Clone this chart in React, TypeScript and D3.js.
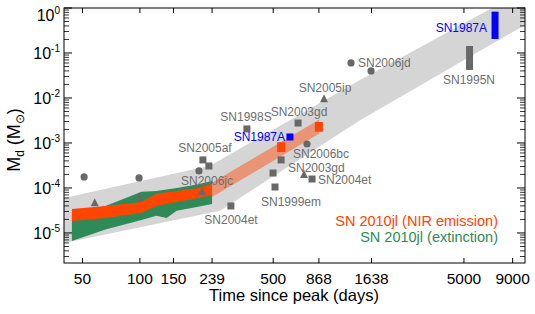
import React from 'react';
import * as d3 from 'd3';

const W = 535;
const H = 314;

// axis ticks
const xTickValues = [50, 100, 150, 239, 500, 868, 1638, 5000, 9000];
const yDecadeExps = [-5, -4, -3, -2, -1, 0];

// SN 2010jl bands (epochs in days since peak)
const epochs = [44, 66, 102, 122, 138, 156, 199, 239];
const nirHigh = [3.4e-5, 4.0e-5, 4.9e-5, 7.4e-5, 8.0e-5, 8.6e-5, 9.8e-5, 1.22e-4];
const nirLow = [1.85e-5, 2.15e-5, 2.8e-5, 4.0e-5, 4.4e-5, 4.9e-5, 5.9e-5, 7.0e-5];
const extHigh = [2.8e-5, 4.0e-5, 8.2e-5, 8.6e-5, 9.3e-5, 1.0e-4, 1.2e-4, 1.42e-4];
const extLow = [6.6e-6, 1.2e-5, 1.95e-5, 2.4e-5, 2.15e-5, 3.1e-5, 3.8e-5, 4.4e-5];

// extrapolated NIR band (late times)
const lateEpochs = [239, 868];
const lateHigh = [1.3e-4, 3.3e-3];
const lateLow = [6.3e-5, 1.6e-3];

// late NIR measurements (rectangles: epoch, low, high)
const nirLateT = [550, 868];
const nirLateLow = [6.3e-4, 1.78e-3];
const nirLateHigh = [1.04e-3, 2.92e-3];

// gray envelope
const envUpperT = [40, 233, 1427, 7020, 10450];
const envUpperM = [6.0e-5, 3.1e-4, 0.025, 1.0, 2.5];
const envLowerT = [40, 263, 1427, 10450];
const envLowerM = [6.0e-6, 3.1e-5, 3.2e-3, 0.42];

// other supernovae markers
const circleT = [51, 99, 204, 752, 1279, 1629];
const circleM = [1.76e-4, 1.67e-4, 2.39e-4, 9.5e-4, 0.06, 0.04];
const triangleT = [58, 99, 212, 923, 725];
const triangleM = [4.64e-5, 6.3e-5, 8.15e-5, 9.5e-3, 1.95e-4];
const squareT = [214, 230, 300, 364, 675, 550, 499, 511, 799];
const squareM = [4.2e-4, 3.08e-4, 3.98e-5, 2.05e-3, 2.78e-3, 4.2e-4, 2.15e-4, 1.05e-4, 1.58e-4];

// SN1987A single point
const sn87T = [612];
const sn87M = [1.36e-3];

// bars: SN1987A late, SN1995N
const barT = [7278, 5350];
const barLow = [0.205, 0.042];
const barHigh = [0.83, 0.143];

// labels
const labelText = ['SN2005af', 'SN2006jc', 'SN2004et', 'SN1998S', 'SN2003gd', 'SN2006bc', 'SN2003gd', 'SN2004et', 'SN1999em', 'SN2005ip', 'SN2006jd', 'SN1995N'];
const labelX = [205, 207, 231, 246, 299, 293, 288, 318, 261, 325, 358, 469];
const labelY = [148, 181, 220, 117, 112, 154, 168, 180, 202, 88, 63, 80];
const labelAnchor = ['middle', 'middle', 'middle', 'middle', 'middle', 'start', 'start', 'start', 'start', 'middle', 'start', 'middle'];

const FONT = '"Liberation Sans", Arial, Helvetica, sans-serif';
const GRAY = '#686868';
const LABEL_GRAY = '#6e6e6e';
const ORANGE = '#ff4500';
const GREEN = '#2e8b57';

export default function App() {
  const left = 64, right = 525, top = 8, bottom = 263;
  const x = d3.scaleLog().domain([40, 10450]).range([left, right]);
  const y = d3.scaleLog().domain([2.15e-6, 1]).range([bottom, top]);

  const band = (ts: number[], lo: number[], hi: number[]) =>
    d3
      .area<number>()
      .x((d) => x(d))
      .y0((_, i) => y(lo[i]))
      .y1((_, i) => y(hi[i]))(ts) as string;

  const line = d3.line<[number, number]>().x((d) => x(d[0])).y((d) => y(d[1]));
  const upper = envUpperT.map((t, i) => [t, envUpperM[i]] as [number, number]);
  const lower = envLowerT.map((t, i) => [t, envLowerM[i]] as [number, number]).reverse();
  const envPath = (line([...upper, ...lower]) as string) + 'Z';

  const minorY: number[] = [];
  for (let e = -6; e <= 0; e++) {
    for (let m = 2; m <= 9; m++) {
      const v = m * Math.pow(10, e);
      if (v > 2.15e-6 && v < 1) minorY.push(v);
    }
  }

  const tri = (cx: number, cy: number, s: number) =>
    `M${cx},${cy - s * 0.6}L${cx + s / 2},${cy + s * 0.4}L${cx - s / 2},${cy + s * 0.4}Z`;

  return (
    <svg width={W} height={H} style={{ position: 'absolute', left: 0, top: 0 }} fontFamily={FONT}>
      <defs>
        <clipPath id="plotclip">
          <rect x={left} y={top} width={right - left} height={bottom - top} />
        </clipPath>
      </defs>
      <g clipPath="url(#plotclip)">
        <path d={envPath} fill="#d5d5d5" />
        <path d={band(epochs, extLow, extHigh)} fill={GREEN} />
        <path d={band(epochs, nirLow, nirHigh)} fill={ORANGE} />
        <path d={band(lateEpochs, lateLow, lateHigh)} fill={ORANGE} fillOpacity={0.45} />
        {nirLateT.map((t, i) => (
          <rect key={'nl' + i} x={x(t) - 4} y={y(nirLateHigh[i])} width={8} height={y(nirLateLow[i]) - y(nirLateHigh[i])} fill={ORANGE} />
        ))}
        {circleT.map((t, i) => (
          <circle key={'c' + i} cx={x(t)} cy={y(circleM[i])} r={3.6} fill={GRAY} />
        ))}
        {triangleT.map((t, i) => (
          <path key={'t' + i} d={tri(x(t), y(triangleM[i]), 8)} fill={GRAY} />
        ))}
        {squareT.map((t, i) => (
          <rect key={'s' + i} x={x(t) - 3.5} y={y(squareM[i]) - 3.5} width={7} height={7} fill={GRAY} />
        ))}
        {sn87T.map((t, i) => (
          <rect key={'b' + i} x={x(t) - 3.5} y={y(sn87M[i]) - 3.5} width={7} height={7} fill="#0000ff" />
        ))}
        {barT.map((t, i) => (
          <rect key={'bar' + i} x={x(t) - 3.5} y={y(barHigh[i])} width={7} height={y(barLow[i]) - y(barHigh[i])} fill={i === 0 ? '#0000ff' : GRAY} />
        ))}
      </g>
      {labelText.map((s, i) => (
        <text key={'l' + i} x={labelX[i]} y={labelY[i] + 4.2} fontSize={12} fill={LABEL_GRAY} textAnchor={labelAnchor[i] as any}>
          {s}
        </text>
      ))}
      <text x={285} y={141.3} fontSize={12} fill="#0000ff" textAnchor="end">SN1987A</text>
      <text x={487} y={32.3} fontSize={12} fill="#0000ff" textAnchor="end">SN1987A</text>

      {/* frame */}
      <rect x={left} y={top} width={right - left} height={bottom - top} fill="none" stroke="#000" strokeWidth={1} />
      {xTickValues.map((v) => (
        <g key={'xt' + v}>
          <line x1={x(v)} x2={x(v)} y1={bottom} y2={bottom - 5} stroke="#000" />
          <line x1={x(v)} x2={x(v)} y1={top} y2={top + 5} stroke="#000" />
          <text x={x(v)} y={284} fontSize={15.5} textAnchor="middle" fill="#000">{v}</text>
        </g>
      ))}
      {minorY.map((v, i) => (
        <g key={'my' + i}>
          <line x1={left} x2={left + 5} y1={y(v)} y2={y(v)} stroke="#000" strokeWidth={0.8} />
          <line x1={right} x2={right - 5} y1={y(v)} y2={y(v)} stroke="#000" strokeWidth={0.8} />
        </g>
      ))}
      {yDecadeExps.map((e) => {
        const v = Math.pow(10, e);
        const yy = y(v);
        return (
          <g key={'yt' + e}>
            <line x1={left} x2={left + 8} y1={yy} y2={yy} stroke="#000" />
            <line x1={right} x2={right - 8} y1={yy} y2={yy} stroke="#000" />
            <text x={60} y={yy + (e === 0 ? 12.5 : 6.5)} fontSize={16} textAnchor="end" fill="#000">
              10<tspan dy={-7} fontSize={10}>{e === 0 ? '0' : '-' + Math.abs(e)}</tspan>
            </text>
          </g>
        );
      })}

      <text x={294} y={301} fontSize={16.5} textAnchor="middle" fill="#000">Time since peak (days)</text>
      <text transform="translate(20,140) rotate(-90)" fontSize={18} textAnchor="middle" fill="#000">
        M<tspan dy={4} fontSize={12}>d</tspan>
        <tspan dy={-4}> (M</tspan>
        <tspan dy={4} fontSize={12}>⊙</tspan>
        <tspan dy={-4}>)</tspan>
      </text>

      <text x={498} y={226} fontSize={14.5} textAnchor="end" fill={ORANGE}>SN 2010jl (NIR emission)</text>
      <text x={498} y={242} fontSize={14.5} textAnchor="end" fill={GREEN}>SN 2010jl (extinction)</text>
    </svg>
  );
}
